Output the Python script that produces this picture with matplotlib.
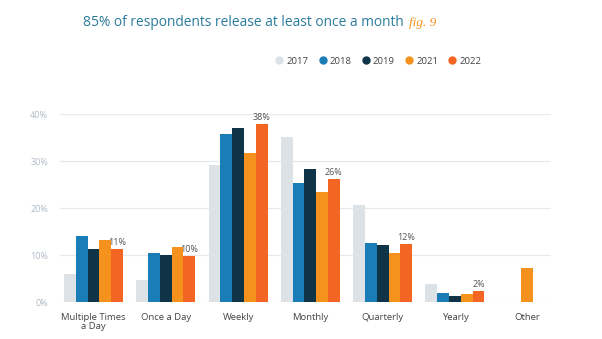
import numpy as np
import matplotlib
matplotlib.use("Agg")
import matplotlib.pyplot as plt
from matplotlib.lines import Line2D

plt.rcParams['font.family'] = ['Open Sans', 'DejaVu Sans']

categories = ['Multiple Times\na Day', 'Once a Day', 'Weekly', 'Monthly', 'Quarterly', 'Yearly', 'Other']
years = ['2017', '2018', '2019', '2021', '2022']
v2017 = [6.0, 4.7, 29.2, 35.1, 20.6, 3.8, np.nan]
v2018 = [14.1, 10.4, 35.7, 25.3, 12.5, 1.9, np.nan]
v2019 = [11.3, 9.9, 37.1, 28.2, 12.1, 1.3, np.nan]
v2021 = [13.1, 11.8, 31.8, 23.5, 10.4, 1.8, 7.3]
v2022 = [11.3, 9.8, 37.9, 26.2, 12.3, 2.4, np.nan]
labels_2022 = ['11%', '10%', '38%', '26%', '12%', '2%', '']

series = [v2017, v2018, v2019, v2021, v2022]
colors = ['#dde2e7', '#1a7db5', '#0f3347', '#f5921e', '#f26522']

fig = plt.figure(figsize=(6.02, 3.39), dpi=100)
ax = fig.add_axes([0.0997, 0.1091, 0.8153, 0.5546])

w = 0.163
for i, cat in enumerate(categories):
    present = [k for k in range(len(series)) if not np.isnan(series[k][i])]
    n = len(present)
    for j, k in enumerate(present):
        x = i + (j - (n - 1) / 2) * w
        ax.bar(x, series[k][i], width=w, color=colors[k], zorder=3)
        if k == 4 and labels_2022[i]:
            ax.text(x, series[k][i] + 0.4, labels_2022[i], ha='center', va='bottom',
                    fontsize=6.5, color='#555555')

ax.set_xlim(-0.463, 6.327)
ax.set_ylim(0, 40)
ax.set_yticks([0, 10, 20, 30, 40])
ax.set_yticklabels(['0%', '10%', '20%', '30%', '40%'], fontsize=6.5, color='#b0bac4')
ax.set_xticks(range(len(categories)))
ax.set_xticklabels(categories, fontsize=6.8, color='#444444', linespacing=1.05)
ax.tick_params(length=0)
ax.tick_params(axis='x', pad=8)
ax.tick_params(axis='y', pad=8.5)
ax.grid(axis='y', color='#e6e9ed', linewidth=0.9, zorder=0)
for s in ax.spines.values():
    s.set_visible(False)

title = fig.text(83 / 602, 1 - 23 / 339, '85% of respondents release at least once a month',
                 ha='left', va='center', fontsize=9.9, color='#2b7a9b')
fig.canvas.draw()
ax.annotate('fig. 9', xy=(1, 0.5), xycoords=title, xytext=(4, 0), textcoords='offset points',
            ha='left', va='center', fontsize=9.5, color='#f5921e', style='italic',
            family='Liberation Serif')

handles = [Line2D([], [], marker='o', linestyle='', markersize=5, color=c) for c in colors]
fig.legend(handles, years, loc='center', bbox_to_anchor=(378 / 602, 1 - 61 / 339),
           ncol=5, frameon=False, fontsize=6.8, handletextpad=0.25, columnspacing=1.0,
           handlelength=1.0, labelcolor='#444444')

fig.savefig('out.png', dpi=100)
